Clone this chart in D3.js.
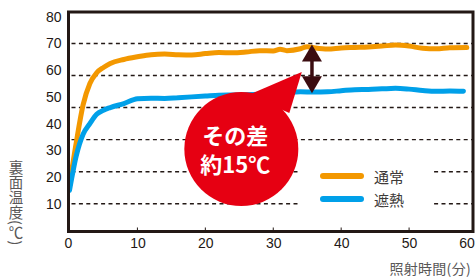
<!DOCTYPE html>
<html>
<head>
<meta charset="utf-8">
<script src="https://cdn.jsdelivr.net/npm/d3@7"></script>
<style>
  body { margin: 0; background: #fff; }
  svg { display: block; }
</style>
</head>
<body>
<div class="graph"></div>
<script>
// values
let timeOrange = [0, 1, 2, 3, 4, 5, 6, 8, 10, 12, 14, 16, 18, 20, 22, 24, 26, 28, 30, 31, 32, 34, 35, 36, 38, 40, 42, 44, 46, 48, 50, 52, 54, 56, 58.5];
let tempOrange = [17, 33, 47, 55, 59, 61, 62.5, 64, 65, 65.8, 66, 65.8, 65.7, 66.2, 66.6, 66.5, 66.8, 67.3, 67.2, 67.8, 67.3, 68, 68.8, 68.4, 67.9, 68.3, 68.5, 68.7, 69, 69.4, 69, 68.2, 68, 68.4, 68.5];
let timeBlue = [0, 1, 2, 3, 4, 5, 6, 8, 10, 12, 14, 16, 18, 20, 22, 24, 26, 28, 30, 32, 34, 36, 38, 40, 42, 44, 46, 48, 50, 52, 54, 56, 58];
let tempBlue = [15, 28, 36, 40, 43.5, 45, 46, 47.5, 49.3, 49.5, 49.4, 49.7, 50, 50.3, 50.6, 50.7, 50.8, 51, 51.3, 51.6, 51.9, 51.8, 51.9, 52.3, 52.7, 52.8, 53, 53.2, 52.9, 52.4, 52.1, 52.2, 52.1];
let seriesNames = ["通常", "遮熱"];
let seriesColors = ["#f39800", "#00a0e9"];
let xTicks = [0, 10, 20, 30, 40, 50, 60];
let yTicks = [10, 20, 30, 40, 50, 60, 70, 80];
let gridValues = [10, 22, 34, 46, 58, 70];
let xTitle = "照射時間(分)";
let yTitle = "裏面温度(℃)";
let calloutLines = ["その差", "約15℃"];
let arrowAt = 35.7;
let arrowRange = [69.6, 51.4];

let w = 475;
let h = 277;
let plotLeft = 68.5;
let plotRight = 473;
let plotTop = 12;
let plotBottom = 231.5;
let ink = "#231815";
let numFont = "'Liberation Sans', Arial, sans-serif";
let jpFont = "'Noto Sans CJK JP', 'Noto Sans', sans-serif";

let svg = d3
  .select(".graph")
  .append("svg")
  .attr("width", w)
  .attr("height", h);

let xScale = d3.scaleLinear().domain([0, 60]).range([69.5, 477]);
let yScale = d3.scaleLinear().domain([0, 80]).range([230.5, 16.7]);

// dashed grid
svg
  .append("g")
  .selectAll("line")
  .data(gridValues)
  .enter()
  .append("line")
  .attr("x1", plotLeft + 3)
  .attr("x2", plotRight)
  .attr("y1", (d) => yScale(d))
  .attr("y2", (d) => yScale(d))
  .attr("stroke", ink)
  .attr("stroke-width", 1.4)
  .attr("stroke-dasharray", "4,3.4");

// legend box hides grid
svg
  .append("rect")
  .attr("x", 299)
  .attr("y", 158)
  .attr("width", 135)
  .attr("height", 56)
  .attr("fill", "#fff");

// series lines
let line = d3
  .line()
  .x((d) => xScale(d[0]))
  .y((d) => yScale(d[1]))
  .curve(d3.curveMonotoneX);

let series = [
  d3.zip(timeOrange, tempOrange),
  d3.zip(timeBlue, tempBlue)
];

svg
  .append("g")
  .selectAll("path")
  .data(series)
  .enter()
  .append("path")
  .attr("d", line)
  .attr("fill", "none")
  .attr("stroke", (d, i) => seriesColors[i])
  .attr("stroke-width", 5)
  .attr("stroke-linejoin", "round")
  .attr("stroke-linecap", "round");

// frame
svg
  .append("path")
  .attr("d", `M${plotLeft},${plotTop}H${plotRight}V${plotBottom}H${plotLeft}Z`)
  .attr("fill", "none")
  .attr("stroke", ink)
  .attr("stroke-width", 3);

// x axis
let xAxis = d3.axisBottom(xScale).tickValues(xTicks).tickSize(0).tickPadding(6);
let gx = svg
  .append("g")
  .attr("transform", `translate(0, ${plotBottom + 1})`)
  .call(xAxis);
gx.select(".domain").remove();
gx.selectAll("text")
  .attr("font-family", numFont)
  .attr("font-size", 14)
  .attr("fill", ink)
  .attr("dx", (d) => (d === 0 ? -1.5 : d === 60 ? -10.5 : 0));

// small inner ticks
svg
  .append("g")
  .selectAll("line")
  .data(xTicks.slice(1, 6))
  .enter()
  .append("line")
  .attr("x1", (d) => xScale(d))
  .attr("x2", (d) => xScale(d))
  .attr("y1", plotBottom - 4)
  .attr("y2", plotBottom)
  .attr("stroke", ink)
  .attr("stroke-width", 1);

// y axis labels
let yAxis = d3.axisLeft(yScale).tickValues(yTicks).tickSize(0).tickPadding(7);
let gy = svg
  .append("g")
  .attr("transform", `translate(${plotLeft}, 0)`)
  .call(yAxis);
gy.select(".domain").remove();
gy.selectAll("text")
  .attr("font-family", numFont)
  .attr("font-size", 14)
  .attr("fill", ink);

// axis titles
svg
  .append("text")
  .attr("x", 471)
  .attr("y", 267.5)
  .attr("text-anchor", "end")
  .attr("dominant-baseline", "central")
  .attr("font-family", jpFont)
  .attr("font-size", 14)
  .attr("letter-spacing", 0.3)
  .attr("fill", "#595757")
  .text(xTitle);

svg
  .append("text")
  .attr("x", 16)
  .attr("y", 160)
  .style("writing-mode", "vertical-rl")
  .attr("font-family", jpFont)
  .attr("font-size", 14.5)
  .attr("letter-spacing", 0.5)
  .attr("fill", "#595757")
  .text(yTitle);

// legend
let legend = svg
  .append("g")
  .selectAll("g")
  .data(seriesNames)
  .enter()
  .append("g")
  .attr("transform", (d, i) => `translate(0, ${176 + i * 23})`);
legend
  .append("line")
  .attr("x1", 323)
  .attr("x2", 361)
  .attr("stroke", (d, i) => seriesColors[i])
  .attr("stroke-width", 6)
  .attr("stroke-linecap", "round");
legend
  .append("text")
  .attr("x", 374)
  .attr("dominant-baseline", "central")
  .attr("font-family", jpFont)
  .attr("font-size", 15)
  .attr("fill", "#3e3a39")
  .text((d) => d);

// double arrow between the two curves
let ax = xScale(arrowAt);
let ay1 = yScale(arrowRange[0]);
let ay2 = yScale(arrowRange[1]);
let arrowColor = "#3b0c10";
svg
  .append("line")
  .attr("x1", ax)
  .attr("x2", ax)
  .attr("y1", ay1 + 10)
  .attr("y2", ay2 - 10)
  .attr("stroke", arrowColor)
  .attr("stroke-width", 3.5);
svg
  .append("path")
  .attr("d", `M${ax},${ay1}L${ax - 10},${ay1 + 17}L${ax + 10},${ay1 + 17}Z`)
  .attr("fill", arrowColor);
svg
  .append("path")
  .attr("d", `M${ax},${ay2}L${ax - 10},${ay2 - 17}L${ax + 10},${ay2 - 17}Z`)
  .attr("fill", arrowColor);

// red callout
let cx = xScale(25.3);
let cy = yScale(30.5);
let red = "#e60012";
svg
  .append("path")
  .attr("d", `M${cx + 7},${cy - 54}L${xScale(34.2)},${yScale(59.3)}L${cx + 48},${cy - 36}Z`)
  .attr("fill", red);
svg
  .append("circle")
  .attr("cx", cx)
  .attr("cy", cy)
  .attr("r", 57)
  .attr("fill", red);
svg
  .append("g")
  .selectAll("text")
  .data(calloutLines)
  .enter()
  .append("text")
  .attr("x", cx - 6)
  .attr("y", (d, i) => cy - 15 + i * 29)
  .attr("text-anchor", "middle")
  .attr("dominant-baseline", "central")
  .attr("font-family", jpFont)
  .attr("font-weight", 700)
  .attr("font-size", 22)
  .attr("fill", "#fff")
  .text((d) => d);
</script>
</body>
</html>
